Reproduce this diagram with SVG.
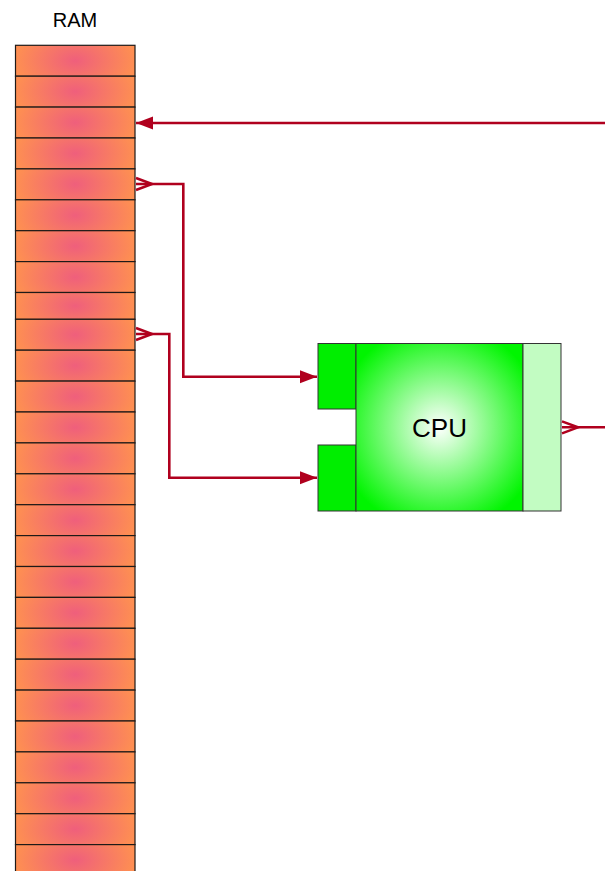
<svg xmlns="http://www.w3.org/2000/svg" width="605" height="871" viewBox="0 0 605 871">
<defs>
<radialGradient id="cellGrad" cx="0.5" cy="0.5" r="0.5" gradientUnits="objectBoundingBox" gradientTransform="translate(0.5 0.5) scale(1 2.4) translate(-0.5 -0.5)">
<stop offset="0" stop-color="#ef5f7c"/>
<stop offset="1" stop-color="#fe8f52"/>
</radialGradient>
<radialGradient id="cpuGrad" cx="0.5" cy="0.5" r="0.62">
<stop offset="0" stop-color="#ffffff"/>
<stop offset="1" stop-color="#00f500"/>
</radialGradient>
<marker id="head" markerUnits="userSpaceOnUse" markerWidth="20" markerHeight="16" viewBox="0 -8 18 16" refX="17" refY="0" orient="auto">
<path d="M0,-6.5 L17,0 L0,6.5 Z" fill="#b0001e"/>
</marker>
<marker id="tail" markerUnits="userSpaceOnUse" markerWidth="20" markerHeight="16" viewBox="-1 -8 20 16" refX="0" refY="0" orient="auto">
<path d="M0,-6 L16,0 L0,6" fill="none" stroke="#b0001e" stroke-width="2.5"/>
</marker>
</defs>
<style>
.cell{fill:url(#cellGrad);stroke:#1e1a18;stroke-width:1.2}
.port{fill:#00ee00;stroke:#333;stroke-width:1}
.conn{fill:none;stroke:#b0001e;stroke-width:2.6}
.lbl{font-family:"Liberation Sans",Arial,sans-serif;fill:#000;text-anchor:middle}
</style>
<g id="ram">
<text class="lbl" x="75" y="27" font-size="20">RAM</text>
<rect class="cell" x="15.5" y="45.3" width="119.5" height="30.9"/>
<rect class="cell" x="15.5" y="76.2" width="119.5" height="30.9"/>
<rect class="cell" x="15.5" y="107.1" width="119.5" height="30.9"/>
<rect class="cell" x="15.5" y="138" width="119.5" height="30.9"/>
<rect class="cell" x="15.5" y="168.9" width="119.5" height="30.9"/>
<rect class="cell" x="15.5" y="199.8" width="119.5" height="30.9"/>
<rect class="cell" x="15.5" y="230.7" width="119.5" height="30.9"/>
<rect class="cell" x="15.5" y="261.6" width="119.5" height="30.9"/>
<rect class="cell" x="15.5" y="292.5" width="119.5" height="26.8"/>
<rect class="cell" x="15.5" y="319.3" width="119.5" height="30.9"/>
<rect class="cell" x="15.5" y="350.2" width="119.5" height="30.9"/>
<rect class="cell" x="15.5" y="381.1" width="119.5" height="30.9"/>
<rect class="cell" x="15.5" y="412" width="119.5" height="30.9"/>
<rect class="cell" x="15.5" y="442.9" width="119.5" height="30.9"/>
<rect class="cell" x="15.5" y="473.8" width="119.5" height="30.9"/>
<rect class="cell" x="15.5" y="504.7" width="119.5" height="30.9"/>
<rect class="cell" x="15.5" y="535.6" width="119.5" height="30.9"/>
<rect class="cell" x="15.5" y="566.5" width="119.5" height="30.9"/>
<rect class="cell" x="15.5" y="597.4" width="119.5" height="30.9"/>
<rect class="cell" x="15.5" y="628.3" width="119.5" height="30.9"/>
<rect class="cell" x="15.5" y="659.2" width="119.5" height="30.9"/>
<rect class="cell" x="15.5" y="690.1" width="119.5" height="30.9"/>
<rect class="cell" x="15.5" y="721" width="119.5" height="30.9"/>
<rect class="cell" x="15.5" y="751.9" width="119.5" height="30.9"/>
<rect class="cell" x="15.5" y="782.8" width="119.5" height="30.9"/>
<rect class="cell" x="15.5" y="813.7" width="119.5" height="30.9"/>
<rect class="cell" x="15.5" y="844.6" width="119.5" height="30.9"/>
</g>
<g id="cpu">
<rect class="port" x="318" y="343.5" width="38" height="65.5"/>
<rect class="port" x="318" y="445" width="38" height="66"/>
<rect x="356" y="343.5" width="167" height="167.5" fill="url(#cpuGrad)" stroke="#333" stroke-width="1"/>
<rect x="523" y="343.5" width="38" height="167.5" fill="#c2fcc2" stroke="#333" stroke-width="1"/>
<text class="lbl" x="439.5" y="436.5" font-size="26">CPU</text>
</g>
<g id="connectors">
<path class="conn" d="M605,123 H136" marker-end="url(#head)"/>
<path class="conn" d="M136,184 H183.3 V376.7 H317" marker-start="url(#tail)" marker-end="url(#head)"/>
<path class="conn" d="M136,334 H169.3 V477.7 H317" marker-start="url(#tail)" marker-end="url(#head)"/>
<path class="conn" d="M562,427.3 H605" marker-start="url(#tail)"/>
</g>
</svg>
